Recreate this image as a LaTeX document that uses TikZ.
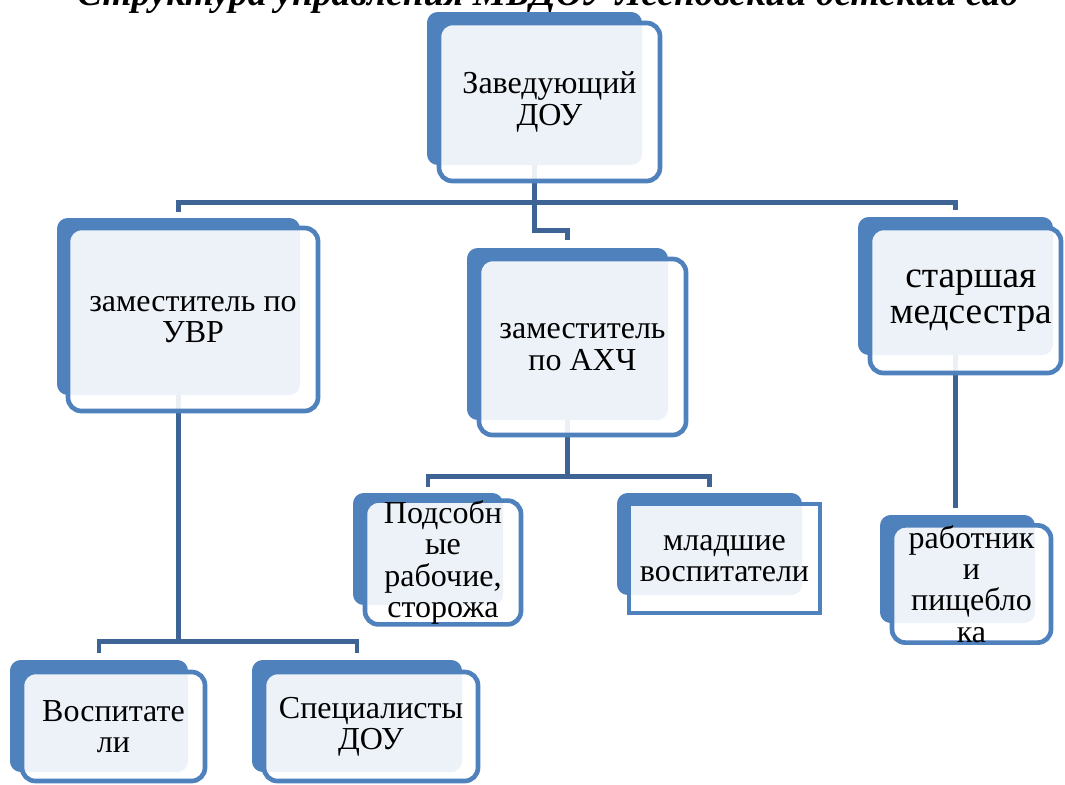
\documentclass[tikz,border=0pt]{standalone}
\usepackage{fontspec}
\setmainfont{Liberation Serif}
\usepackage{tikz}
\usetikzlibrary{positioning,calc}
\pgfdeclarelayer{background}
\pgfsetlayers{background,main}

\definecolor{boxblue}{RGB}{79,129,189}
\definecolor{linkblue}{RGB}{62,100,150}

\tikzset{
    boxsize/.style 2 args={minimum width=#1*0.75pt, minimum height=#2*0.75pt},
    backbox/.style={fill=boxblue, rounded corners=8pt, inner sep=0pt},
    frontbox/.style={draw=boxblue, line width=3.5pt, fill=white, fill opacity=0.9, text opacity=1,
        rounded corners=10pt, inner sep=0pt, align=center, font=\fontsize{24}{23.5}\selectfont},
    link/.style={draw=linkblue, line width=3.4pt},
}

\begin{document}
\begin{tikzpicture}[x=0.75pt, y=-0.75pt]
    \useasboundingbox (0,0) rectangle (1065,785);
    \clip (0,0) rectangle (1065,785);

    % Title, cut by the top edge
    \node[anchor=base, font=\fontsize{28}{34}\selectfont\bfseries\itshape] (title) at (548,6)
        {Структура управления МБДОУ Лесновский детский сад};

    % Head
    \node[backbox, boxsize={215}{153}] (headback) at (534.5,88.5) {};
    \node[frontbox, boxsize={221}{158}] (head) at (549.5,102) {Заведующий\\ДОУ};

    % Deputies and nurse
    \node[backbox, boxsize={243}{177}] (uvrback) at (178.5,306.5) {};
    \node[frontbox, boxsize={250}{183}] (uvr) at (193,319.5) {заместитель по\\УВР};
    \node[backbox, boxsize={201}{172}] (ahchback) at (567.5,334) {};
    \node[frontbox, boxsize={207}{176}] (ahch) at (582.5,347) {заместитель\\по АХЧ};
    \node[backbox, boxsize={195}{138}] (nurseback) at (955.5,286) {};
    \node[frontbox, boxsize={191}{145}, font=\fontsize{28}{27}\selectfont] (nurse) at (965.5,300.5)
        {\rule{8pt}{0pt}старшая\\\rule{8pt}{0pt}медсестра};

    % Staff
    \node[backbox, boxsize={150}{112}] (helpback) at (428,549) {};
    \node[frontbox, boxsize={156}{117}] (help) at (443,562.5) {Подсобн\\ые\\рабочие,\\сторожа};
    \node[backbox, boxsize={185}{102}] (juniorback) at (709.5,544) {};
    \node[frontbox, boxsize={191}{109}, sharp corners] (junior) at (724.5,558.5) {младшие\\воспитатели};
    \node[backbox, boxsize={155}{108}] (kitchenback) at (957.5,569) {};
    \node[frontbox, boxsize={159}{114}] (kitchen) at (971.5,584) {работник\\и\\пищебло\\ка};
    \node[backbox, boxsize={178}{112}] (teachback) at (99,716) {};
    \node[frontbox, boxsize={183}{109}] (teach) at (113.5,726.5) {Воспитате\\ли};
    \node[backbox, boxsize={210}{112}] (specback) at (357,716) {};
    \node[frontbox, boxsize={214}{109}] (spec) at (371,726.5) {Специалисты\\ДОУ};

    % Connectors behind the boxes
    \begin{pgfonlayer}{background}
        \draw[link, shorten >=6pt] (headback.south) -- ++(0,65) -| (ahchback.north);
        \draw[link, shorten <=4.5pt, shorten >=5.25pt] (uvrback.north) -- ++(0,-15) -| (nurseback.north);
        \draw[link] (ahchback.south) -- ++(0,57);
        \draw[link, shorten <=4.5pt, shorten >=4.5pt] (helpback.north) -- ++(0,-16) -| (juniorback.north);
        \draw[link] (uvrback.south) -- ++(0,247);
        \draw[link, shorten <=5.25pt, shorten >=5.25pt] (teachback.north) -- ++(0,-18) -| (specback.north);
        \draw[link, shorten >=5.25pt] (nurseback.south) -- (nurseback.south |- kitchenback.north);
    \end{pgfonlayer}
\end{tikzpicture}
\end{document}
